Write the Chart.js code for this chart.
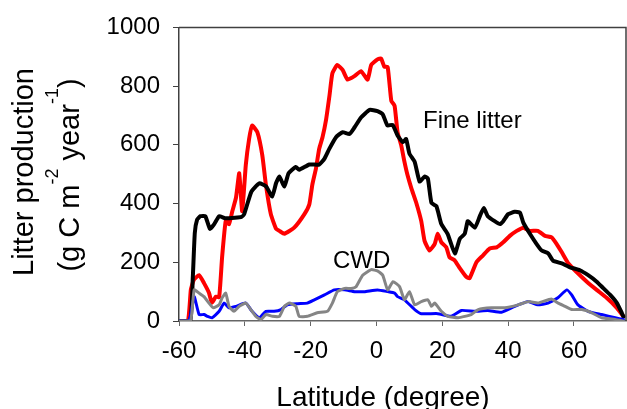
<!DOCTYPE html>
<html>
<head>
<meta charset="utf-8">
<script src="https://cdn.jsdelivr.net/npm/chart.js@4.4.1/dist/chart.umd.min.js"></script>
<style>
  html, body { margin: 0; padding: 0; background: #fff; }
  #wrap { width: 627px; height: 409px; position: relative; }
</style>
</head>
<body>
<div id="wrap"><canvas id="chart"></canvas></div>
<script>
// Litter production by latitude: fine litter (red, black) and CWD (blue, gray)

const X_TICKS = [-60, -40, -20, 0, 20, 40, 60];
const Y_TICKS = [0, 200, 400, 600, 800, 1000];

// fine litter, red
const redLat = [-60, -57.3, -56.4, -55.5, -53.9, -52.4, -50.9, -50, -48.8, -47.8, -46.9, -45.8, -44.8, -43.8, -42.7, -41.7, -40.8, -39.7, -38.7, -37.8, -36.2, -34.7, -33.6, -32.1, -30.5, -29.5, -28, -25, -21.9, -20.4, -19.5, -18.4, -17.4, -16.4, -15.3, -14.3, -13.4, -11.9, -10.3, -8.8, -6.7, -4.7, -2.7, -1.6, 0.3, 1.4, 2.4, 3.4, 4.5, 5.5, 6.4, 7.5, 8.5, 9.4, 10.6, 12.1, 13.6, 14.6, 16.1, 17.7, 18.6, 19.7, 21.2, 22.2, 23.8, 25.3, 27.3, 28.3, 30.4, 32.3, 34.4, 36.5, 38.5, 40.5, 42.6, 44.6, 46.6, 49, 51.2, 53.2, 54.7, 56.3, 58.3, 60.8, 63.9, 66.9, 69.9, 73, 75];
const redVal = [0, 0, 106, 140, 156, 129, 96, 62, 83, 81, 218, 341, 330, 374, 419, 503, 374, 532, 620, 666, 643, 565, 464, 364, 314, 307, 297, 318, 364, 398, 464, 519, 587, 626, 687, 766, 844, 872, 855, 822, 834, 851, 822, 872, 891, 894, 866, 865, 750, 733, 643, 599, 542, 498, 452, 402, 340, 273, 240, 263, 297, 268, 251, 217, 206, 180, 150, 146, 201, 223, 247, 251, 268, 290, 307, 318, 307, 307, 290, 285, 263, 234, 196, 167, 134, 106, 79, 45, 16];

// fine litter, black
const blackLat = [-60, -56.6, -55.8, -55.2, -54.5, -53.5, -52, -50.6, -49.3, -47.8, -46, -43, -41, -40.2, -38, -35.6, -33.5, -31.7, -30.5, -29.5, -28, -26.7, -24.5, -23.5, -20.4, -17.4, -15.8, -14.3, -12.3, -10.3, -8.2, -6.7, -4.7, -2.1, 0.3, 1.9, 3.3, 4.9, 6.4, 8, 9, 10, 11.6, 13.1, 14.6, 15.6, 16.7, 18.2, 19.7, 21.6, 23.8, 25.3, 26.8, 27.7, 28.3, 29.9, 31.4, 32.6, 33.8, 35.9, 37.5, 38.5, 40, 42, 43.6, 44.6, 46.6, 48.6, 50.2, 52.2, 53.6, 56.3, 58.8, 61.8, 64.3, 66.9, 68.9, 71, 73, 74.5, 75];
const blackVal = [0, 0, 150, 300, 345, 357, 357, 314, 330, 357, 350, 352, 355, 364, 441, 469, 458, 424, 470, 492, 458, 503, 525, 515, 533, 533, 553, 587, 626, 643, 637, 659, 693, 719, 715, 704, 666, 668, 632, 609, 620, 570, 542, 475, 492, 485, 402, 391, 330, 297, 230, 280, 297, 340, 335, 318, 357, 385, 357, 340, 330, 340, 364, 372, 369, 335, 297, 263, 240, 230, 206, 196, 183, 173, 156, 134, 112, 89, 62, 28, 15];

// CWD, blue
const blueLat = [-60, -57, -55.4, -53.9, -52.4, -51.4, -50, -47.8, -46.3, -44.8, -42.7, -39.7, -37.8, -35.6, -33.6, -31.1, -29, -27.1, -24, -21, -18.9, -15.8, -12.8, -9.7, -6.7, -3.7, 0.3, 3.4, 5.5, 6.4, 8.5, 11.6, 13.6, 18.6, 22.7, 25.8, 29.9, 33.8, 38, 42, 46, 49, 52.1, 55.1, 57.8, 59.3, 61.2, 64.3, 68.4, 72.5, 75];
const blueVal = [0, 0, 83, 22, 22, 16, 11, 33, 61, 45, 50, 61, 33, 11, 33, 33, 39, 55, 59, 61, 72, 89, 106, 106, 100, 100, 106, 100, 95, 83, 72, 39, 25, 25, 16, 36, 33, 36, 30, 50, 66, 55, 61, 79, 106, 89, 55, 33, 22, 11, 5];

// CWD, gray
const grayLat = [-60, -56.5, -55.4, -53.9, -52.4, -50.9, -49.6, -47.8, -46.9, -45.8, -44.8, -43.3, -41.7, -39.7, -38.2, -36.7, -35.1, -33.6, -31.6, -29.5, -28, -26.5, -24.5, -23.5, -21, -18, -14.9, -13.4, -11.9, -9.7, -7.7, -6.2, -4.2, -1.6, 0.4, 1.9, 3.4, 5, 7, 8.5, 10, 11.6, 13.6, 15.6, 16.7, 17.7, 19.7, 21.7, 24.8, 28.8, 30.9, 34.9, 39, 43, 46.1, 49.1, 53.1, 55.2, 57.3, 59.3, 62.4, 65.4, 68.4, 72.5, 75];
const grayVal = [0, 0, 106, 95, 83, 61, 45, 55, 79, 95, 50, 33, 50, 61, 39, 16, 5, 22, 16, 16, 50, 61, 50, 16, 16, 28, 33, 61, 100, 111, 111, 117, 156, 175, 170, 156, 106, 134, 117, 72, 100, 55, 66, 72, 50, 61, 33, 16, 11, 22, 39, 45, 45, 55, 66, 61, 75, 61, 50, 39, 39, 28, 11, 5, 0];

function pts(xs, ys) { return xs.map((x, i) => ({ x, y: ys[i] })); }

const FONT = "'Liberation Sans', Arial, sans-serif";

// axis titles, series labels and the box around the plot
const decor = {
  id: 'decor',
  afterDraw(chart) {
    const c = chart.ctx, a = chart.chartArea;
    c.save();
    c.strokeStyle = '#404040';
    c.lineWidth = 1.5;
    c.beginPath();
    c.moveTo(a.left, a.top); c.lineTo(a.right, a.top); c.lineTo(a.right, a.bottom);
    c.stroke();

    c.fillStyle = '#000';
    c.textBaseline = 'alphabetic';
    c.font = '24px ' + FONT;
    c.textAlign = 'left';
    c.fillText('Fine litter', 423, 128);
    c.fillText('CWD', 333, 268);

    c.font = '28px ' + FONT;
    c.textAlign = 'center';
    c.fillText('Latitude (degree)', 383, 406);

    // y title, two rotated lines
    c.save();
    c.translate(33, 172);
    c.rotate(-Math.PI / 2);
    c.font = '29px ' + FONT;
    c.fillText('Litter production', 0, 0);
    c.restore();

    const parts = [['(g C m', false], ['-2', true], [' year', false], ['-1', true], [')', false]];
    const big = '29px ' + FONT, small = '18px ' + FONT;
    let total = 0;
    for (const [t, sup] of parts) { c.font = sup ? small : big; total += c.measureText(t).width; }
    c.save();
    c.translate(79, 175);
    c.rotate(-Math.PI / 2);
    c.textAlign = 'left';
    let px = -total / 2;
    for (const [t, sup] of parts) {
      c.font = sup ? small : big;
      c.fillText(t, px, sup ? -21 : 0);
      px += c.measureText(t).width;
    }
    c.restore();
    c.restore();
  }
};

new Chart(document.getElementById('chart').getContext('2d'), {
  type: 'line',
  data: {
    datasets: [
      { data: pts(grayLat, grayVal), borderColor: '#858585', borderWidth: 3, order: 0 },
      { data: pts(blueLat, blueVal), borderColor: '#0000ff', borderWidth: 3, order: 1 },
      { data: pts(blackLat, blackVal), borderColor: '#000000', borderWidth: 4, order: 2 },
      { data: pts(redLat, redVal), borderColor: '#ff0000', borderWidth: 4, order: 3 },
    ],
  },
  options: {
    responsive: true,
    maintainAspectRatio: false,
    animation: false,
    layout: { padding: { top: 23, right: 1, left: 0, bottom: 0 } },
    elements: {
      point: { radius: 0 },
      line: { tension: 0.15, borderJoinStyle: 'round', borderCapStyle: 'round' },
    },
    plugins: { legend: { display: false }, tooltip: { enabled: false } },
    scales: {
      x: {
        type: 'linear',
        min: -60, max: 75.8,
        afterBuildTicks: s => { s.ticks = X_TICKS.map(v => ({ value: v })); },
        afterFit: s => { s.height = 88; },
        ticks: { color: '#000', font: { family: FONT, size: 24 }, padding: 11, maxRotation: 0, autoSkip: false, callback: v => String(v) },
        grid: { drawOnChartArea: false, drawTicks: true, tickLength: 5, color: '#666' },
        border: { display: true, color: '#666', width: 1.5 },
      },
      y: {
        min: 0, max: 1000,
        afterBuildTicks: s => { s.ticks = Y_TICKS.map(v => ({ value: v })); },
        afterFit: s => { s.width = 179; },
        ticks: { color: '#000', font: { family: FONT, size: 24 }, padding: 13, callback: v => String(v) },
        grid: { drawOnChartArea: false, drawTicks: true, tickLength: 6, color: '#404040' },
        border: { display: true, color: '#404040', width: 1.5 },
      },
    },
  },
  plugins: [decor],
});
</script>
</body>
</html>
